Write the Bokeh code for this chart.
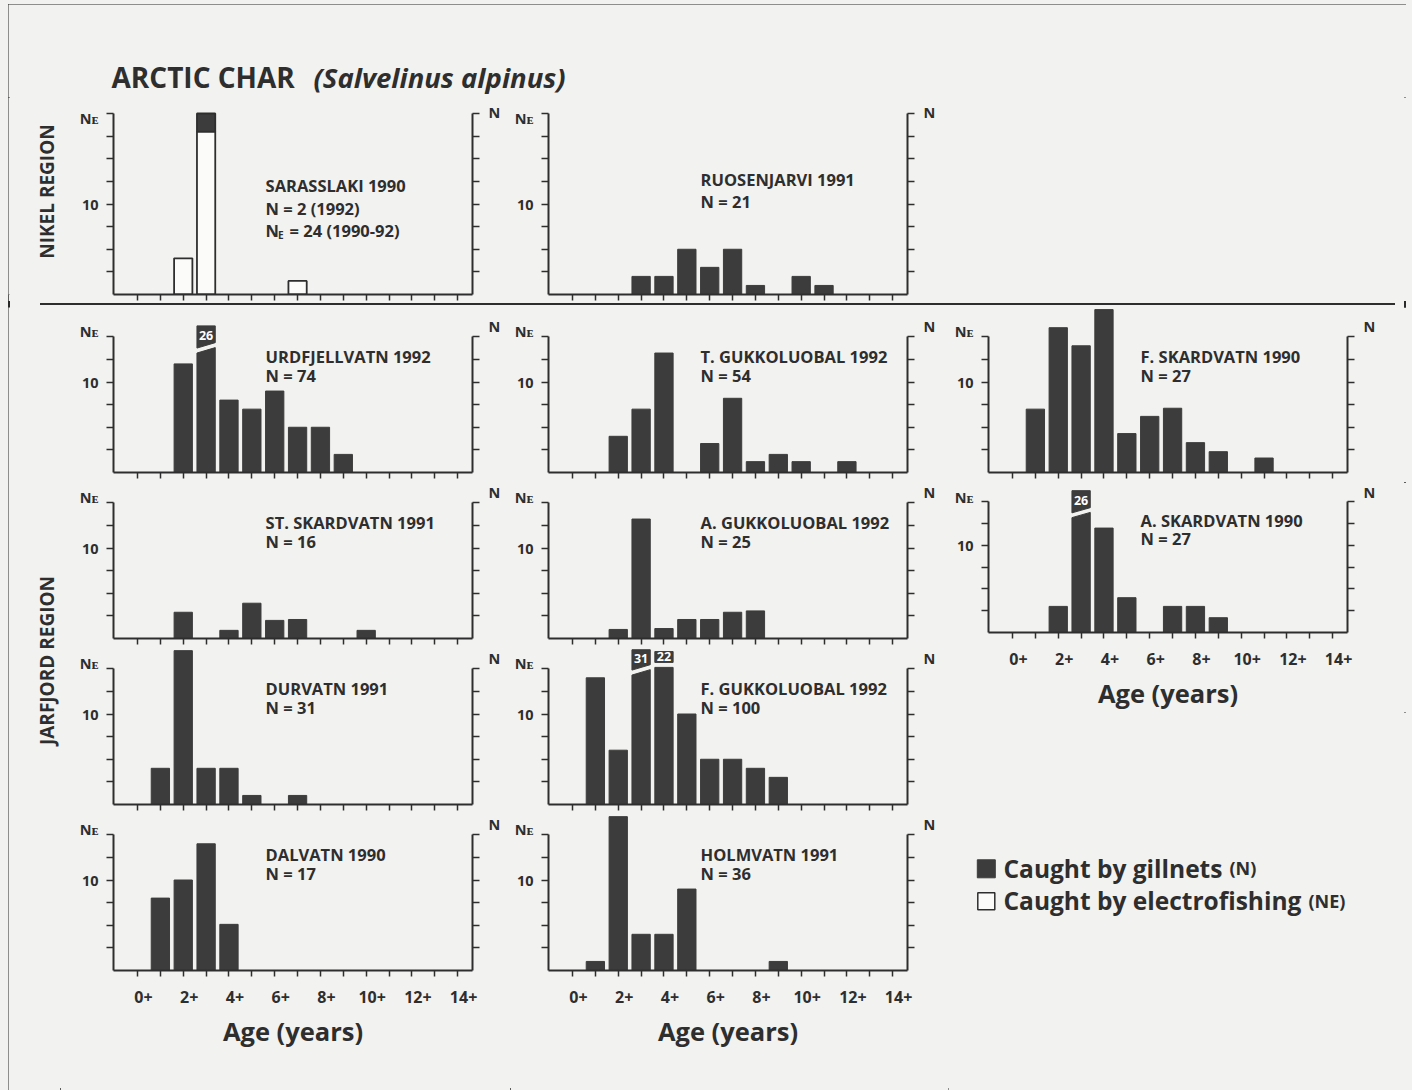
import math
import re
from bokeh.plotting import figure
from bokeh.models import Range1d, LinearAxis, FixedTicker, Spacer, Div
from bokeh.layouts import row, column
from bokeh.core.properties import value
from bokeh.embed import file_html
from bokeh.resources import INLINE

# ---------------- data ----------------
ages = list(range(15))
age_ticks = [0, 2, 4, 6, 8, 10, 12, 14]
age_labels = ["0+", "2+", "4+", "6+", "8+", "10+", "12+", "14+"]
y_label_ticks = [10]
y_minor_15 = [2.5, 5, 7.5, 10, 12.5, 15]
y_minor_20 = [2.5, 5, 7.5, 10, 12.5, 15, 17.5, 20]

sarasslaki_e_ages = [2, 3, 7]
sarasslaki_e = [4, 18, 1.5]
sarasslaki_g_ages = [3]
sarasslaki_g = [2]

ruosenjarvi_ages = [3, 4, 5, 6, 7, 8, 10, 11]
ruosenjarvi = [2, 2, 5, 3, 5, 1, 2, 1]
urdfjellvatn_ages = [2, 3, 4, 5, 6, 7, 8, 9]
urdfjellvatn = [12, 26, 8, 7, 9, 5, 5, 2]
t_gukkoluobal_ages = [2, 3, 4, 6, 7, 8, 9, 10, 12]
t_gukkoluobal = [4, 7, 13.2, 3.2, 8.2, 1.2, 2, 1.2, 1.2]
f_skardvatn_ages = [1, 2, 3, 4, 5, 6, 7, 8, 9, 11]
f_skardvatn = [7, 16, 14, 18, 4.3, 6.2, 7.1, 3.3, 2.3, 1.6]
st_skardvatn_ages = [2, 4, 5, 6, 7, 10]
st_skardvatn = [2.9, 0.9, 3.9, 2, 2.1, 0.9]
a_gukkoluobal_ages = [2, 3, 4, 5, 6, 7, 8]
a_gukkoluobal = [1, 13.2, 1.1, 2.1, 2.1, 2.9, 3.05]
a_skardvatn_ages = [2, 3, 4, 5, 7, 8, 9]
a_skardvatn = [3, 26, 12, 4, 3, 3, 1.7]
durvatn_ages = [1, 2, 3, 4, 5, 7]
durvatn = [4, 17, 4, 4, 1, 1]
f_gukkoluobal_ages = [1, 2, 3, 4, 5, 6, 7, 8, 9]
f_gukkoluobal = [14, 6, 31, 22, 10, 5, 5, 4, 3]
dalvatn_ages = [1, 2, 3, 4]
dalvatn = [8, 10, 14, 5.1]
holmvatn_ages = [1, 2, 3, 4, 5, 9]
holmvatn = [1, 17, 4, 4, 9, 1]

panels = {
    (0, 1): ("RUOSENJARVI 1991", "N = 21", ruosenjarvi_ages, ruosenjarvi),
    (1, 0): ("URDFJELLVATN 1992", "N = 74", urdfjellvatn_ages, urdfjellvatn),
    (1, 1): ("T. GUKKOLUOBAL 1992", "N = 54", t_gukkoluobal_ages, t_gukkoluobal),
    (1, 2): ("F. SKARDVATN 1990", "N = 27", f_skardvatn_ages, f_skardvatn),
    (2, 0): ("ST. SKARDVATN 1991", "N = 16", st_skardvatn_ages, st_skardvatn),
    (2, 1): ("A. GUKKOLUOBAL 1992", "N = 25", a_gukkoluobal_ages, a_gukkoluobal),
    (2, 2): ("A. SKARDVATN 1990", "N = 27", a_skardvatn_ages, a_skardvatn),
    (3, 0): ("DURVATN 1991", "N = 31", durvatn_ages, durvatn),
    (3, 1): ("F. GUKKOLUOBAL 1992", "N = 100", f_gukkoluobal_ages, f_gukkoluobal),
    (4, 0): ("DALVATN 1990", "N = 17", dalvatn_ages, dalvatn),
    (4, 1): ("HOLMVATN 1991", "N = 36", holmvatn_ages, holmvatn),
}

legend_labels = ["Caught by gillnets", "Caught by electrofishing"]
legend_marks = ["(N)", "(NE)"]

# ---------------- style ----------------
FONT = "Open Sans"
INK = "#2e2e2e"
BAR = "#3c3c3c"
BG = "#f2f2f0"
OPEN = "#fbfbfa"
PXU = 9.05            # px per count unit
X0, X1 = -1.05, 14.65
LAB_SHIFT = 0.26      # age labels sit a little right of their ticks
BAR_W = 0.8
BREAK_OVER = 19
# broken bar style: (break level, slope, box top)
BREAKS = {((1, 0), 3): (13.2, 0.6, 16.2),
          ((2, 2), 3): (13.2, 0.6, 16.3),
          ((3, 1), 3): (14.3, 0.6, 17.1),
          ((3, 1), 4): (15.15, 0.0, 16.9)}
GAP = 0.55

COLS = [(450, 53, 38), (438, 38, 41), (458, 40, 59)]
ROWS = {0: (204, 0, 7, 20), 1: (175, 0, 10, 15), 2: (166, 0, 10, 15),
        3: (166, 0, 10, 15), 4: (276, 0, 120, 15)}
LABELLED = {(4, 0), (4, 1), (2, 2)}
TITLE_SIZE = "16.5px"


def base_fig(w, h, **kw):
    return figure(width=w, height=h, toolbar_location=None, output_backend="svg",
                  x_axis_type=None, y_axis_type=None, background_fill_color=BG,
                  border_fill_color=BG, outline_line_color=None, title=None,
                  frame_align=False, **kw)


def txt(p, x, y, s, size, style="bold", **kw):
    kw.setdefault("text_baseline", "bottom")
    p.text(x=[x], y=[y], text=[s], text_font=value(FONT), text_font_style=style,
           text_font_size=size, text_color=INK, **kw)


def make_panel(r, c):
    w, bl, br = COLS[c]
    h, bt, bb, top = ROWS[r]
    if (r, c) == (2, 2):
        h, bb = 230, 74
    fh = h - bt - bb
    p = base_fig(w, h, x_range=Range1d(X0, X1), y_range=Range1d(0, fh / PXU),
                 min_border_left=bl, min_border_right=br, min_border_top=bt,
                 min_border_bottom=bb)
    minor = y_minor_20 if top == 20 else y_minor_15
    dn, dr = (-0.55, 1.3) if r == 0 else (0.55, 1.08)
    common = dict(axis_line_width=2, axis_line_color=INK, major_tick_line_color=None,
                  major_tick_out=0, major_tick_in=0, minor_tick_line_color=INK,
                  minor_tick_line_width=1.5, minor_tick_in=0,
                  major_label_text_font=FONT, major_label_text_font_style="bold",
                  major_label_text_color=INK)
    n_pos = top + dn
    ly = LinearAxis(ticker=FixedTicker(ticks=y_label_ticks + [n_pos], minor_ticks=minor),
                    bounds=(0, top), minor_tick_out=7, major_label_standoff=8,
                    major_label_overrides={10: "10", n_pos: "N\u1d07"},
                    major_label_text_font_size="14.5px", **common)
    p.add_layout(ly, "left")
    r_pos = top + dr
    ry = LinearAxis(ticker=FixedTicker(ticks=[r_pos], minor_ticks=minor), bounds=(0, top),
                    minor_tick_out=7, major_label_standoff=9,
                    major_label_overrides={r_pos: "N"},
                    major_label_text_font_size="14.5px", **common)
    p.add_layout(ry, "right")
    if (r, c) in LABELLED:
        lab_pos = [a + LAB_SHIFT for a in age_ticks]
        bx = LinearAxis(ticker=FixedTicker(ticks=lab_pos, minor_ticks=ages), minor_tick_out=6,
                        major_label_overrides=dict(zip(lab_pos, age_labels)),
                        major_label_standoff=14, major_label_text_font_size="16px",
                        axis_label="Age (years)", axis_label_standoff=8,
                        axis_label_text_font=FONT, axis_label_text_font_style="bold",
                        axis_label_text_font_size="25.5px", axis_label_text_color=INK,
                        **common)
    else:
        bx = LinearAxis(ticker=FixedTicker(ticks=[], minor_ticks=ages), minor_tick_out=6,
                        major_label_standoff=0, **common)
    p.add_layout(bx, "below")

    if (r, c) == (0, 0):
        p.vbar(x=sarasslaki_e_ages, top=sarasslaki_e, width=BAR_W, fill_color=OPEN,
               line_color=INK, line_width=1.8)
        emap = dict(zip(sarasslaki_e_ages, sarasslaki_e))
        gb = [emap.get(a, 0) for a in sarasslaki_g_ages]
        gt = [b + g for b, g in zip(gb, sarasslaki_g)]
        p.vbar(x=sarasslaki_g_ages, bottom=gb, top=gt, width=BAR_W, fill_color=BAR,
               line_color=INK, line_width=1.8)
        txt(p, 5.6, 10.8, "SARASSLAKI 1990", TITLE_SIZE)
        txt(p, 5.6, 8.2, "N = 2 (1992)", TITLE_SIZE)
        txt(p, 5.6, 5.8, "N", TITLE_SIZE)
        txt(p, 5.6, 5.8, "E", "10px", x_offset=12.5, y_offset=-0.5)
        txt(p, 5.6, 5.8, "= 24 (1990-92)", TITLE_SIZE, x_offset=24)
        return p

    title, ntext, a_list, v_list = panels[(r, c)]
    nx = [a for a, v in zip(a_list, v_list) if v <= BREAK_OVER]
    nv = [v for a, v in zip(a_list, v_list) if v <= BREAK_OVER]
    p.vbar(x=nx, top=nv, width=BAR_W, fill_color=BAR, line_color=BAR)
    for a, v in zip(a_list, v_list):
        if v > BREAK_OVER:
            b, s, bx_top = BREAKS[((r, c), a)]
            xl, xr = a - BAR_W / 2, a + BAR_W / 2
            p.patches(xs=[[xl, xr, xr, xl], [xl, xr, xr, xl]],
                      ys=[[0, 0, b + s, b], [b + GAP, b + GAP + s, bx_top, bx_top]],
                      fill_color=BAR, line_color=BAR)
            p.text(x=[a], y=[(b + GAP + s / 2 + bx_top) / 2], text=[str(v)],
                   text_font=value(FONT), text_font_style="bold", text_font_size="12.5px",
                   text_color="white", text_align="center", text_baseline="middle")
    ty, ny = (11.4, 9.0) if r == 0 else (11.5, 9.5)
    txt(p, 5.6, ty, title, TITLE_SIZE)
    txt(p, 5.6, ny, ntext, TITLE_SIZE)
    return p


def blank(w, h):
    return base_fig(w, h, x_range=Range1d(0, 1), y_range=Range1d(0, 1), min_border=0)


# header (page y 4..97)
header = base_fig(1398, 93, x_range=Range1d(0, 1398), y_range=Range1d(0, 93), min_border=0)
txt(header, 103, 1.2, "ARCTIC CHAR", "28px")
txt(header, 305, 1.2, "(Salvelinus alpinus)", "27.5px", style="bold italic")

# left strips
stripA = base_fig(52, 204, x_range=Range1d(0, 52), y_range=Range1d(0, 197), min_border=0,
                  min_border_bottom=7)
txt(stripA, 38, 103, "NIKEL REGION", "19px", angle=math.pi / 2, text_align="center",
    text_baseline="middle")
stripB = base_fig(52, 783, x_range=Range1d(0, 52), y_range=Range1d(0, 783), min_border=0)
txt(stripB, 38, 430, "JARFJORD REGION", "19px", angle=math.pi / 2, text_align="center",
    text_baseline="middle")

# separator line (page y 301..307)
sep = column(Spacer(width=1398, height=2, margin=0),
             row(Spacer(width=32, height=2, margin=0),
                 Div(text="", width=1355, height=2, margin=0,
                     styles={"background-color": INK, "line-height": "0", "font-size": "0"})),
             Spacer(width=1398, height=2, margin=0))

# legend block
lp = base_fig(458, 378, x_range=Range1d(0, 458), y_range=Range1d(0, 378), min_border=0)
lp.rect(x=[37.8], y=[221.7], width=18, height=18, fill_color=BAR, line_color=BAR)
lp.rect(x=[37.8], y=[189.2], width=17, height=17, fill_color=OPEN, line_color=INK,
        line_width=1.5)
txt(lp, 55, 222.5, legend_labels[0], "24.5px", text_baseline="middle")
txt(lp, 55, 190, legend_labels[1], "24.5px", text_baseline="middle")
txt(lp, 281, 222.5, legend_marks[0], "18px", text_baseline="middle")
txt(lp, 360, 190, legend_marks[1], "18px", text_baseline="middle")

row0 = row(stripA, make_panel(0, 0), make_panel(0, 1), blank(458, 204))
col1 = column(*[make_panel(r, 0) for r in range(1, 5)])
col2 = column(*[make_panel(r, 1) for r in range(1, 5)])
col3 = column(make_panel(1, 2), make_panel(2, 2), lp)
rows14 = row(stripB, col1, col2, col3)

inner = column(header, row0, sep, rows14,
               styles={"outline": "2px solid #2a2a2a", "outline-offset": "-2px",
                       "background-color": BG})
layout = column(Spacer(width=1412, height=4, styles={"background-color": BG}),
                row(Spacer(width=8, height=1086, styles={"background-color": BG}), inner),
                styles={"background-color": BG})

html = file_html(layout, INLINE, title="Arctic char")
html = re.sub(r"<body([^>]*)>", r'<body\1 style="background-color:%s;">' % BG, html, count=1)
open("out.html", "w").write(html)
